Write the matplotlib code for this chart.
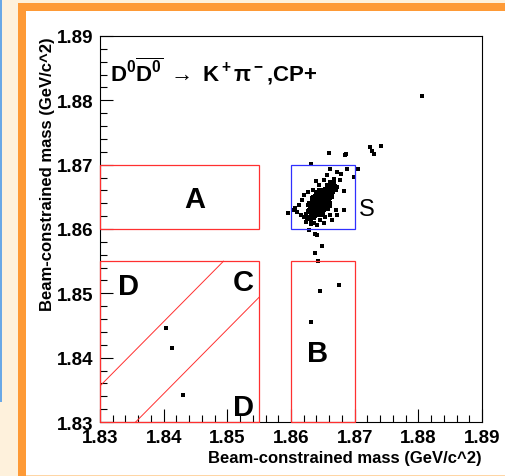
import matplotlib

matplotlib.use("Agg")
import matplotlib.pyplot as plt
from matplotlib.patches import Rectangle
from matplotlib.ticker import MultipleLocator

plt.rcParams["font.family"] = ["Liberation Sans", "DejaVu Sans"]
plt.rcParams["mathtext.fontset"] = "custom"
plt.rcParams["mathtext.rm"] = "Liberation Sans:bold"
plt.rcParams["mathtext.bf"] = "Liberation Sans:bold"
plt.rcParams["mathtext.it"] = "Liberation Sans:bold"

# --- data (GeV/c^2) ---
# signal region core
core_x = [1.8646, 1.8648, 1.8644, 1.8650, 1.8642, 1.8652, 1.8640, 1.8647, 1.8655, 1.8638,
          1.8658, 1.8636, 1.8645, 1.8649, 1.8653, 1.8641, 1.8660, 1.8634, 1.8657, 1.8639,
          1.8651, 1.8643, 1.8662, 1.8632, 1.8656, 1.8637, 1.8650, 1.8644, 1.8648, 1.8646,
          1.8654, 1.8640, 1.8659, 1.8635, 1.8661, 1.8642, 1.8663, 1.8630, 1.8652, 1.8647,
          1.8655, 1.8638, 1.8665, 1.8633, 1.8657, 1.8628, 1.8649, 1.8643, 1.8664, 1.8636,
          1.8658, 1.8641, 1.8667, 1.8631, 1.8653, 1.8646, 1.8660, 1.8639, 1.8666, 1.8634,
          1.8651, 1.8645, 1.8656, 1.8637, 1.8662, 1.8629, 1.8654, 1.8644, 1.8668, 1.8632,
          1.8648, 1.8659, 1.8640, 1.8663, 1.8626, 1.8650, 1.8642, 1.8657, 1.8635, 1.8661,
          1.8638, 1.8670, 1.8627, 1.8655, 1.8643, 1.8664, 1.8633, 1.8669, 1.8647, 1.8652,
          1.8624, 1.8660, 1.8636, 1.8666, 1.8645, 1.8658, 1.8630, 1.8672, 1.8639, 1.8656,
          1.8637, 1.8643, 1.8651, 1.8649, 1.8633, 1.8641, 1.8655, 1.8659, 1.8647, 1.8639,
          1.8629, 1.8635, 1.8653, 1.8645, 1.8661, 1.8657, 1.8631, 1.8627, 1.8650, 1.8644]
core_y = [1.8642, 1.8644, 1.8640, 1.8647, 1.8638, 1.8645, 1.8641, 1.8638, 1.8650, 1.8635,
          1.8652, 1.8632, 1.8648, 1.8636, 1.8641, 1.8646, 1.8655, 1.8630, 1.8646, 1.8629,
          1.8652, 1.8633, 1.8658, 1.8636, 1.8657, 1.8625, 1.8639, 1.8645, 1.8650, 1.8634,
          1.8654, 1.8637, 1.8649, 1.8640, 1.8651, 1.8627, 1.8660, 1.8633, 1.8637, 1.8631,
          1.8644, 1.8644, 1.8656, 1.8627, 1.8661, 1.8630, 1.8655, 1.8651, 1.8653, 1.8648,
          1.8643, 1.8624, 1.8662, 1.8622, 1.8659, 1.8628, 1.8646, 1.8650, 1.8658, 1.8621,
          1.8633, 1.8637, 1.8639, 1.8631, 1.8648, 1.8626, 1.8662, 1.8655, 1.8664, 1.8619,
          1.8626, 1.8663, 1.8654, 1.8666, 1.8628, 1.8643, 1.8643, 1.8653, 1.8637, 1.8641,
          1.8620, 1.8660, 1.8618, 1.8635, 1.8623, 1.8650, 1.8643, 1.8667, 1.8657, 1.8630,
          1.8624, 1.8668, 1.8617, 1.8670, 1.8660, 1.8631, 1.8616, 1.8665, 1.8658, 1.8665,
          1.8652, 1.8656, 1.8629, 1.8659, 1.8648, 1.8633, 1.8634, 1.8642, 1.8621, 1.8623,
          1.8641, 1.8649, 1.8648, 1.8626, 1.8636, 1.8669, 1.8625, 1.8637, 1.8625, 1.8661]

# sparser points around the core
halo_x = [1.8662, 1.8673, 1.8679, 1.8688, 1.8677, 1.8667, 1.8657, 1.8652, 1.8640, 1.8644,
          1.8661, 1.8667, 1.8673, 1.8665, 1.8657, 1.8651, 1.8635, 1.8626, 1.8621, 1.8617,
          1.8612, 1.8607, 1.8609, 1.8615, 1.8620, 1.8625, 1.8623, 1.8631, 1.8636, 1.8641,
          1.8646, 1.8654, 1.8662, 1.8670, 1.8665, 1.8652, 1.8641, 1.8631, 1.8683, 1.8673,
          1.8684, 1.8604, 1.8632, 1.8699]
halo_y = [1.8693, 1.8688, 1.8685, 1.8693, 1.8676, 1.8678, 1.8684, 1.8676, 1.8674, 1.8668,
          1.8673, 1.8671, 1.8665, 1.8663, 1.8664, 1.8660, 1.8660, 1.8658, 1.8653, 1.8645,
          1.8637, 1.8632, 1.8627, 1.8622, 1.8619, 1.8616, 1.8611, 1.8614, 1.8609, 1.8622,
          1.8614, 1.8619, 1.8622, 1.8629, 1.8614, 1.8609, 1.8606, 1.8607, 1.8629, 1.8622,
          1.8659, 1.8630, 1.8701, 1.8681]

# isolated events
out_x = [1.8806, 1.8724, 1.8728, 1.8731, 1.8742, 1.8685, 1.8706, 1.8660, 1.8686,
         1.8596, 1.8628, 1.8638, 1.8641, 1.8649, 1.8638,
         1.8643, 1.8646, 1.8675, 1.8631,
         1.8404, 1.8413, 1.8430]
out_y = [1.8806, 1.8727, 1.8722, 1.8717, 1.8729, 1.8715, 1.8694, 1.8718, 1.8716,
         1.8625, 1.8599, 1.8593, 1.8590, 1.8573, 1.8563,
         1.8550, 1.8504, 1.8513, 1.8455,
         1.8446, 1.8415, 1.8342]

# selection regions: (x0, x1, y0, y1)
box_A = (1.830, 1.855, 1.860, 1.870)
box_CD = (1.830, 1.855, 1.830, 1.855)
box_B = (1.860, 1.870, 1.830, 1.855)
box_S = (1.860, 1.870, 1.860, 1.870)
diag_offset = 0.0056

W, H = 505, 477
fig = plt.figure(figsize=(W / 100, H / 100), dpi=100, facecolor="#fef1dc")

# page decoration (drawn behind the axes)
fig.add_artist(Rectangle((0, 1 - 403 / H), 1.5 / W, 403 / H, transform=fig.transFigure,
                         color="#6aa8e6", lw=0, zorder=-10))
fig.add_artist(Rectangle((18 / W, 0), 487 / W, 473 / H, transform=fig.transFigure,
                         color="#fe9a36", lw=0, zorder=-9))
fig.add_artist(Rectangle((26 / W, 0), 479 / W, 1.5 / H, transform=fig.transFigure,
                         color="#fed6a6", lw=0, zorder=-8))
fig.add_artist(Rectangle((26 / W, 1.5 / H), 479 / W, 463.5 / H, transform=fig.transFigure,
                         color="white", lw=0, zorder=-7))

ax = fig.add_axes([100 / W, 54 / H, 382 / W, 386 / H])
ax.set_facecolor("white")
ax.set_xlim(1.83, 1.89)
ax.set_ylim(1.83, 1.89)

ax.plot(core_x, core_y, "s", color="black", ms=2.6, mew=0)
ax.plot(halo_x, halo_y, "s", color="black", ms=2.2, mew=0)
ax.plot(out_x, out_y, "s", color="black", ms=2.2, mew=0)

for (x0, x1, y0, y1), col in [(box_A, "#ff3030"), (box_CD, "#ff3030"),
                              (box_B, "#ff3030"), (box_S, "#3030ff")]:
    ax.add_patch(Rectangle((x0, y0), x1 - x0, y1 - y0, fill=False, ec=col, lw=0.9,
                           zorder=5, clip_on=False))

x0, x1, y0, y1 = box_CD
ax.plot([x0, y1 - diag_offset], [x0 + diag_offset, y1], color="#ff3030", lw=0.7)
ax.plot([y0 + diag_offset, x1], [y0, x1 - diag_offset], color="#ff3030", lw=0.7)

lab = dict(fontsize=21, fontweight="bold", ha="center", va="center")
ax.text(1.8449, 1.8647, "A", **lab)
ax.text(1.8642, 1.8407, "B", **lab)
ax.text(1.8525, 1.8518, "C", **lab)
ax.text(1.8344, 1.8511, "D", **lab)
ax.text(1.8525, 1.8323, "D", **lab)
ax.text(1.8719, 1.8631, "S", fontsize=17, ha="center", va="center")

ax.text(1.8316, 1.8846, r"$\mathrm{D^0\overline{D^0}}\;\rightarrow\;\mathrm{K^+\pi^-}$,CP+",
        fontsize=16, fontweight="bold", ha="left", va="center")

ax.xaxis.set_major_locator(MultipleLocator(0.01))
ax.xaxis.set_minor_locator(MultipleLocator(0.002))
ax.yaxis.set_major_locator(MultipleLocator(0.01))
ax.yaxis.set_minor_locator(MultipleLocator(0.002))
ax.xaxis.set_major_formatter(lambda v, p: f"{v:.2f}")
ax.yaxis.set_major_formatter(lambda v, p: f"{v:.2f}")
ax.tick_params(which="both", direction="in", top=False, right=False, width=0.8)
ax.tick_params(which="major", length=9.5, labelsize=13.5, pad=5)
ax.tick_params(which="minor", length=5)
for t in ax.get_xticklabels() + ax.get_yticklabels():
    t.set_fontweight("bold")
for s in ax.spines.values():
    s.set_linewidth(0.8)

ax.set_xlabel("Beam-constrained mass (GeV/c^2)", fontsize=12, fontweight="bold",
              loc="right", labelpad=3)
ax.set_ylabel("Beam-constrained mass (GeV/c^2)", fontsize=12, fontweight="bold",
              loc="top", labelpad=1)

fig.savefig("out.png", dpi=100, facecolor=fig.get_facecolor())
